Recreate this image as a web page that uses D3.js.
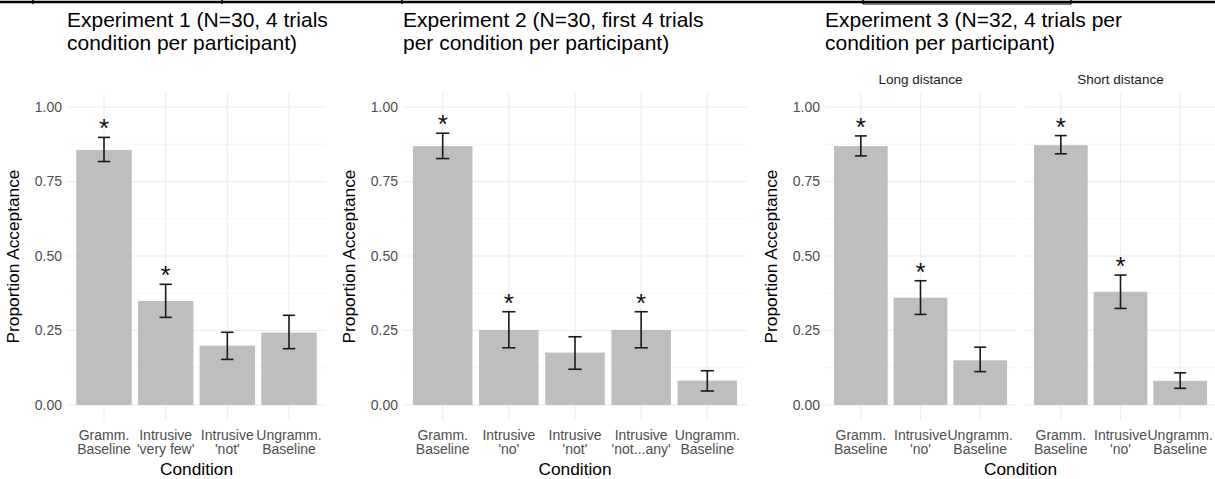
<!DOCTYPE html>
<html>
<head>
<meta charset="utf-8">
<script src="https://cdn.jsdelivr.net/npm/d3@7"></script>
<style>
  body { margin: 0; background: #fff; }
  text { font-family: "Liberation Sans", Arial, sans-serif; }
</style>
</head>
<body>
<script>
// data
var yTicks = [0, 0.25, 0.5, 0.75, 1];
var yTickLabels = ["0.00", "0.25", "0.50", "0.75", "1.00"];
var yMinorTicks = [0.125, 0.375, 0.625, 0.875];

var exp1Title = ["Experiment 1 (N=30, 4 trials", "condition per participant)"];
var exp1Conditions = ["Gramm.\nBaseline", "Intrusive\n'very few'", "Intrusive\n'not'", "Ungramm.\nBaseline"];
var exp1Means = [0.856, 0.349, 0.199, 0.243];
var exp1Lower = [0.817, 0.294, 0.153, 0.189];
var exp1Upper = [0.898, 0.405, 0.244, 0.301];
var exp1Stars = [true, true, false, false];

var exp2Title = ["Experiment 2 (N=30, first 4 trials", "per condition per participant)"];
var exp2Conditions = ["Gramm.\nBaseline", "Intrusive\n'no'", "Intrusive\n'not'", "Intrusive\n'not...any'", "Ungramm.\nBaseline"];
var exp2Means = [0.869, 0.252, 0.176, 0.252, 0.082];
var exp2Lower = [0.827, 0.192, 0.120, 0.192, 0.047];
var exp2Upper = [0.912, 0.313, 0.229, 0.313, 0.115];
var exp2Stars = [true, true, false, true, false];

var exp3Title = ["Experiment 3 (N=32, 4 trials per", "condition per participant)"];
var exp3Facets = ["Long distance", "Short distance"];
var exp3Conditions = ["Gramm.\nBaseline", "Intrusive\n'no'", "Ungramm.\nBaseline"];
var exp3LongMeans = [0.869, 0.360, 0.150];
var exp3LongLower = [0.836, 0.304, 0.112];
var exp3LongUpper = [0.903, 0.417, 0.194];
var exp3LongStars = [true, true, false];
var exp3ShortMeans = [0.872, 0.380, 0.081];
var exp3ShortLower = [0.843, 0.324, 0.056];
var exp3ShortUpper = [0.904, 0.436, 0.108];
var exp3ShortStars = [true, true, false];

var width = 1215;
var height = 479;
var panelTop = 93, panelBottom = 420;
var starGap = 0.05;

var svg = d3.select("body").append("svg").attr("width", width).attr("height", height);

// scan border at the very top of the page
svg.append("line").attr("x1", 0).attr("x2", width).attr("y1", 2).attr("y2", 2)
  .attr("stroke", "#000").attr("stroke-width", 2.5);
[33, 222, 402, 863, 1071].forEach(function(x) {
  svg.append("line").attr("x1", x).attr("x2", x).attr("y1", 0).attr("y2", 4)
    .attr("stroke", "#000").attr("stroke-width", 1.5);
});
svg.append("line").attr("x1", 863).attr("x2", 1071).attr("y1", 4).attr("y2", 4)
  .attr("stroke", "#000").attr("stroke-width", 1);

var yScale = d3.scaleLinear().domain([0, 1]).range([405, 107]);

function drawFacet(conditions, means, lower, upper, stars, left, right, showY, strip) {
  var xScale = d3.scaleBand().domain(conditions).range([left, right])
    .paddingInner(0.1).paddingOuter(0.15);
  var bw = xScale.bandwidth();
  var cap = bw * 0.2 / 0.9;
  var cx = function(d) { return xScale(d) + bw / 2; };
  var rows = conditions.map(function(c, i) {
    return { c: c, m: means[i], lo: lower[i], hi: upper[i], star: stars[i] };
  });
  var g = svg.append("g");

  // grid
  g.selectAll(".minor").data(yMinorTicks).enter().append("line")
    .attr("x1", left).attr("x2", right)
    .attr("y1", function(d) { return yScale(d); }).attr("y2", function(d) { return yScale(d); })
    .attr("stroke", "#f2f2f2").attr("stroke-width", 0.8);
  g.selectAll(".major").data(yTicks).enter().append("line")
    .attr("x1", left).attr("x2", right)
    .attr("y1", function(d) { return yScale(d); }).attr("y2", function(d) { return yScale(d); })
    .attr("stroke", "#ebebeb").attr("stroke-width", 1.1);
  g.selectAll(".vgrid").data(conditions).enter().append("line")
    .attr("x1", cx).attr("x2", cx).attr("y1", panelTop).attr("y2", panelBottom)
    .attr("stroke", "#ebebeb").attr("stroke-width", 1.1);

  // bars
  g.selectAll(".bar").data(rows).enter().append("rect")
    .attr("x", function(d) { return xScale(d.c); })
    .attr("width", bw)
    .attr("y", function(d) { return yScale(d.m); })
    .attr("height", function(d) { return yScale(0) - yScale(d.m); })
    .attr("fill", "#bebebe");

  // error bars
  var eb = g.selectAll(".eb").data(rows).enter().append("g").attr("stroke", "#1a1a1a").attr("stroke-width", 1.6);
  eb.append("line").attr("x1", function(d) { return cx(d.c); }).attr("x2", function(d) { return cx(d.c); })
    .attr("y1", function(d) { return yScale(d.lo); }).attr("y2", function(d) { return yScale(d.hi); });
  eb.append("line").attr("x1", function(d) { return cx(d.c) - cap / 2; }).attr("x2", function(d) { return cx(d.c) + cap / 2; })
    .attr("y1", function(d) { return yScale(d.lo); }).attr("y2", function(d) { return yScale(d.lo); });
  eb.append("line").attr("x1", function(d) { return cx(d.c) - cap / 2; }).attr("x2", function(d) { return cx(d.c) + cap / 2; })
    .attr("y1", function(d) { return yScale(d.hi); }).attr("y2", function(d) { return yScale(d.hi); });

  // significance stars
  var fs = 26;
  g.selectAll(".star").data(rows.filter(function(d) { return d.star; })).enter().append("text")
    .attr("x", function(d) { return cx(d.c); })
    .attr("y", function(d) { return yScale(d.hi + starGap) + 0.575 * fs; })
    .attr("text-anchor", "middle").attr("font-size", fs).attr("fill", "#111")
    .text("*");

  // x tick labels (two lines)
  var xl = g.selectAll(".xl").data(conditions).enter().append("text")
    .attr("text-anchor", "middle").attr("font-size", 14).attr("fill", "#4d4d4d");
  xl.each(function(d) {
    var t = d3.select(this);
    d.split("\n").forEach(function(line, i) {
      t.append("tspan").attr("x", cx(d)).attr("y", 440 + i * 14).text(line);
    });
  });

  if (showY) {
    g.selectAll(".yl").data(yTicks).enter().append("text")
      .attr("x", left - 5)
      .attr("y", function(d) { return yScale(d); })
      .attr("dy", "0.35em")
      .attr("text-anchor", "end").attr("font-size", 14).attr("fill", "#4d4d4d")
      .text(function(d, i) { return yTickLabels[i]; });
    g.append("text")
      .attr("transform", "translate(" + (left - 48) + "," + ((panelTop + panelBottom) / 2) + ") rotate(-90)")
      .attr("text-anchor", "middle").attr("font-size", 17.3).attr("fill", "#000")
      .text("Proportion Acceptance");
  }

  if (strip) {
    g.append("text").attr("x", (left + right) / 2).attr("y", 84)
      .attr("text-anchor", "middle").attr("font-size", 13.5).attr("fill", "#1a1a1a")
      .text(strip);
  }
}

function drawTitle(lines, left, right) {
  var t = svg.append("text").attr("font-size", 21).attr("fill", "#000");
  lines.forEach(function(line, i) {
    t.append("tspan").attr("x", left).attr("y", 27 + i * 23).text(line);
  });
  svg.append("text").attr("x", (left + right) / 2).attr("y", 475)
    .attr("text-anchor", "middle").attr("font-size", 17.3).attr("fill", "#000")
    .text("Condition");
}

// Experiment 1
drawFacet(exp1Conditions, exp1Means, exp1Lower, exp1Upper, exp1Stars, 67, 326, true, null);
drawTitle(exp1Title, 67, 326);

// Experiment 2
drawFacet(exp2Conditions, exp2Means, exp2Lower, exp2Upper, exp2Stars, 403, 747, true, null);
drawTitle(exp2Title, 403, 747);

// Experiment 3 (two facets)
drawFacet(exp3Conditions, exp3LongMeans, exp3LongLower, exp3LongUpper, exp3LongStars, 825, 1016, true, exp3Facets[0]);
drawFacet(exp3Conditions, exp3ShortMeans, exp3ShortLower, exp3ShortUpper, exp3ShortStars, 1025, 1216, false, exp3Facets[1]);
drawTitle(exp3Title, 825, 1216);
</script>
</body>
</html>
